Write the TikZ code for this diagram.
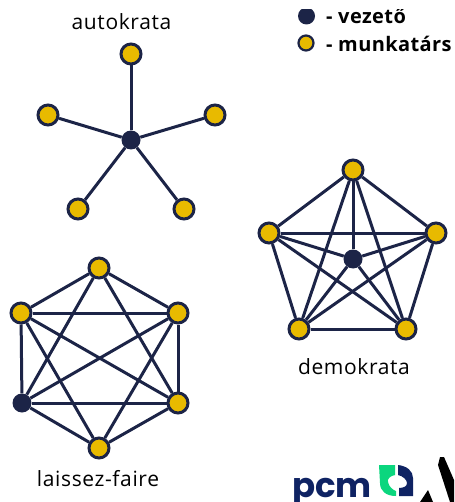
\documentclass[tikz,border=0pt]{standalone}
\usepackage{fontspec}
\setmainfont{Open Sans}
\newfontfamily\logofont{Poppins}
\newfontfamily\capfont[LetterSpace=3]{Open Sans}
\newfontfamily\legfont[LetterSpace=2,BoldFont={Open Sans Bold}]{Open Sans}
\definecolor{navy}{HTML}{1C2447}
\definecolor{gold}{HTML}{E8BA00}
\definecolor{logogreen}{HTML}{0BD67E}
\definecolor{logonavy}{HTML}{0F2363}
\tikzset{
  member/.style={circle,draw=navy,fill=gold,line width=3pt,minimum size=20pt,inner sep=0pt},
  leader/.style={circle,fill=navy,minimum size=19pt,inner sep=0pt},
  link/.style={draw=navy,line width=3pt},
  caption/.style={font=\capfont\fontsize{21}{24}\selectfont,text=black,inner sep=0pt,anchor=base},
  legendtext/.style={font=\legfont\fontsize{20}{23}\selectfont\bfseries,text=black,inner sep=0pt,anchor=base west}
}
\begin{document}
\begin{tikzpicture}[x=1pt,y=-1pt]
\useasboundingbox (0,0) rectangle (454,502);
% autokrata
\node[member] (a1) at (131,54) {};
\node[member] (a2) at (48,115) {};
\node[member] (a3) at (215,115) {};
\node[member] (a4) at (78,209) {};
\node[member] (a5) at (184,209) {};
\node[leader] (a0) at (131,140) {};
\foreach \n in {a1,a2,a3,a4,a5} \draw[link] (a0) -- (\n);
% demokrata
\node[member] (d1) at (353,170) {};
\node[member] (d2) at (269,233) {};
\node[member] (d3) at (436,233) {};
\node[member] (d4) at (299,329) {};
\node[member] (d5) at (406,329) {};
\node[leader] (d0) at (353,259) {};
\foreach \p/\q in {d1/d2,d1/d3,d1/d4,d1/d5,d2/d3,d2/d4,d2/d5,d3/d4,d3/d5,d4/d5,d0/d1,d0/d2,d0/d3,d0/d4,d0/d5}
  \draw[link] (\p) -- (\q);
% laissez-faire
\node[member] (h1) at (99,268) {};
\node[member] (h2) at (21,313) {};
\node[member] (h3) at (178,313) {};
\node[leader] (h4) at (22,403) {};
\node[member] (h5) at (178,403) {};
\node[member] (h6) at (99,448) {};
\foreach \p/\q in {h1/h2,h1/h3,h1/h4,h1/h5,h2/h3,h2/h4,h2/h5,h2/h6,h3/h4,h3/h5,h3/h6,h4/h5,h4/h6,h5/h6}
  \draw[link] (\p) -- (\q);
% captions
\node[caption] (ca) at (121.5,30) {autokrata};
\node[caption] (cd) at (354,374) {demokrata};
\node[caption] (cl) at (98,486) {laissez-faire};
% legend
\begin{scope}
\clip (280,10) rectangle (454,60);
\node[leader,minimum size=17pt] (lv) at (306.5,16) {};
\node[legendtext] (tv) at (326,24) {- vezető};
\end{scope}
\node[member,minimum size=15pt,line width=2.2pt] (lm) at (306,43) {};
\node[legendtext] (tm) at (326,51.5) {- munkatárs};
% logo
\node[inner sep=0pt,anchor=base west,text=logonavy,font=\logofont\fontsize{34}{36}\selectfont\bfseries] (pcm) at (292,497) {pcm};
\fill[logogreen] (379,465) -- (395,465) -- (395,475) .. controls (390,476) and (387,479) .. (388,482) .. controls (389,487) and (393,490) .. (396,491) -- (396,496) .. controls (386,496) and (380,491) .. (380,483) -- cycle;
\fill[logonavy] (398,465) .. controls (407,466) and (413,471) .. (413,478) -- (413,496) -- (399,496) -- (399,488) .. controls (404,488) and (407,486) .. (407,483) .. controls (407,480) and (403,476) .. (398,475) -- cycle;
\fill[black] (440,457) -- (444,457) -- (454,480) -- (454,502) -- (450,502) -- (438,465) -- cycle;
\fill[black] (420,502) -- (428,490) -- (433,502) -- cycle;
\end{tikzpicture}
\end{document}
